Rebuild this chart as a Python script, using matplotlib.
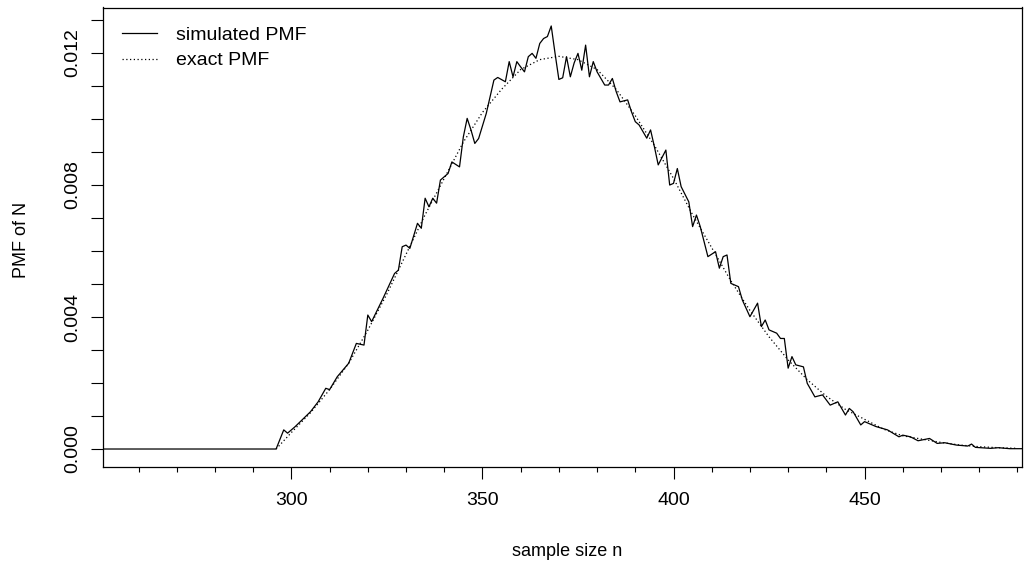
import matplotlib
matplotlib.use("Agg")
import matplotlib.pyplot as plt
import numpy as np

plt.rcParams['font.family'] = ['Liberation Sans', 'DejaVu Sans']

# simulated PMF
sim_n = [251, 296, 298, 299, 301, 305, 307, 309, 310, 312, 315, 317, 319, 320, 321,
         324, 327, 328, 329, 330, 331, 333, 334, 335, 336, 337, 338, 339, 341, 342,
         344, 345, 346, 347, 348, 349, 351, 352, 353, 354, 356, 357, 358, 359, 360,
         361, 362, 363, 364, 365, 366, 367, 368, 369, 370, 371, 372, 373, 374, 375,
         376, 377, 378, 379, 380, 382, 383, 384, 385, 386, 388, 389, 390, 391, 393,
         394, 395, 396, 398, 399, 400, 401, 402, 404, 405, 406, 407, 409, 411, 412,
         413, 414, 415, 417, 418, 420, 422, 423, 424, 425, 427, 428, 429, 430, 431,
         432, 434, 435, 437, 439, 441, 443, 444, 445, 446, 447, 449, 450, 453, 456,
         459, 460, 462, 464, 467, 469, 471, 474, 477, 478, 479, 483, 485, 488, 492]
sim_pmf = [0.0, 0.0, 0.00058, 0.00048, 0.00068, 0.00113, 0.00143, 0.00184, 0.00180, 0.00219,
           0.0026, 0.0032, 0.00315, 0.00406, 0.00386, 0.00457, 0.00532, 0.00542, 0.00613,
           0.00618, 0.00608, 0.00684, 0.00669, 0.0076, 0.00734, 0.0076, 0.00745, 0.00815,
           0.00835, 0.0087, 0.00855, 0.00946, 0.01002, 0.00967, 0.00926, 0.00941, 0.01017,
           0.01068, 0.01118, 0.01126, 0.01113, 0.01174, 0.01128, 0.01174, 0.01158, 0.01143,
           0.01189, 0.01199, 0.01184, 0.01229, 0.01244, 0.0125, 0.01282, 0.01199, 0.0112,
           0.01125, 0.01189, 0.01128, 0.0117, 0.01199, 0.01148, 0.01224, 0.01128, 0.01174,
           0.01143, 0.01103, 0.01103, 0.01123, 0.01083, 0.01052, 0.01058, 0.01022, 0.00992,
           0.00982, 0.00942, 0.00967, 0.00916, 0.00861, 0.00906, 0.008, 0.00805, 0.0085,
           0.00795, 0.00749, 0.00674, 0.00709, 0.00674, 0.00583, 0.00598, 0.00548, 0.00583,
           0.00588, 0.00502, 0.00492, 0.00452, 0.00401, 0.00442, 0.00371, 0.00391, 0.00361,
           0.00351, 0.00335, 0.00335, 0.00245, 0.0028, 0.00255, 0.00249, 0.00199, 0.00158,
           0.00164, 0.00133, 0.00143, 0.00123, 0.00103, 0.00123, 0.00113, 0.00073, 0.00083,
           0.00068, 0.00058, 0.00037, 0.00042, 0.00037, 0.00025, 0.00032, 0.00017, 0.00019,
           0.00012, 0.00009, 0.00015, 0.00005, 0.00002, 0.00004, 0.00001, 0.00001]

# exact PMF
exact_n = [296, 300, 305, 310, 315, 320, 325, 330, 335, 340, 345, 350, 355, 360, 365,
           370, 375, 380, 385, 390, 395, 400, 405, 410, 415, 420, 425, 430, 435, 440,
           445, 450, 455, 460, 465, 470, 475, 480, 485, 490]
exact_pmf = [0.0, 0.0005, 0.0011, 0.0018, 0.0026, 0.0036, 0.0047, 0.0059, 0.0071, 0.0082,
             0.0093, 0.0102, 0.0109, 0.0115, 0.0118, 0.0119, 0.0118, 0.0115, 0.0109, 0.0101,
             0.0092, 0.0082, 0.0071, 0.0061, 0.0051, 0.0042, 0.0034, 0.0027, 0.0021, 0.0016,
             0.0012, 0.0009, 0.0006, 0.0004, 0.0003, 0.0002, 0.00012, 0.00007, 0.00004, 0.00002]

fig = plt.figure(figsize=(10.24, 5.65), dpi=100)
ax = fig.add_axes([103 / 1024, 1 - 466.7 / 565, 919 / 1024, 459.2 / 565])

ax.plot(sim_n, sim_pmf, color='black', lw=0.9, label='simulated PMF')
ax.plot(exact_n, exact_pmf, color='black', lw=0.9, ls=(0, (1, 2)), label='exact PMF')

ax.set_xlim(250.7, 491.2)
ax.set_ylim(-0.000536, 0.01338)

ax.set_xticks([300, 350, 400, 450])
ax.set_xticks([n for n in range(260, 491, 10) if n % 50 != 0], minor=True)
ax.set_yticks([0.0, 0.004, 0.008, 0.012])
ax.set_yticklabels(['0.000', '0.004', '0.008', '0.012'], rotation=90, va='center')
ax.set_yticks(np.arange(1, 14) * 0.001, minor=True)

ax.tick_params(axis='x', which='major', length=8.5, width=0.8, labelsize=14, pad=10)
ax.tick_params(axis='x', which='minor', length=3.6, width=0.8)
ax.tick_params(axis='y', which='both', length=8.5, width=0.8, labelsize=14, pad=7)
for s in ax.spines.values():
    s.set_linewidth(0.9)

fig.text(567 / 1024, 1 - 552 / 565, 'sample size n', ha='center', va='center', fontsize=13)
fig.text(22 / 1024, 1 - 240 / 565, 'PMF of N', ha='center', va='center', rotation=90, fontsize=13)

ax.legend(loc='upper left', bbox_to_anchor=(0.0207, 0.959), frameon=False, fontsize=14,
          handlelength=1.8, handletextpad=1.0, labelspacing=0.4, borderpad=0, borderaxespad=0)

fig.savefig('out.png', dpi=100)
